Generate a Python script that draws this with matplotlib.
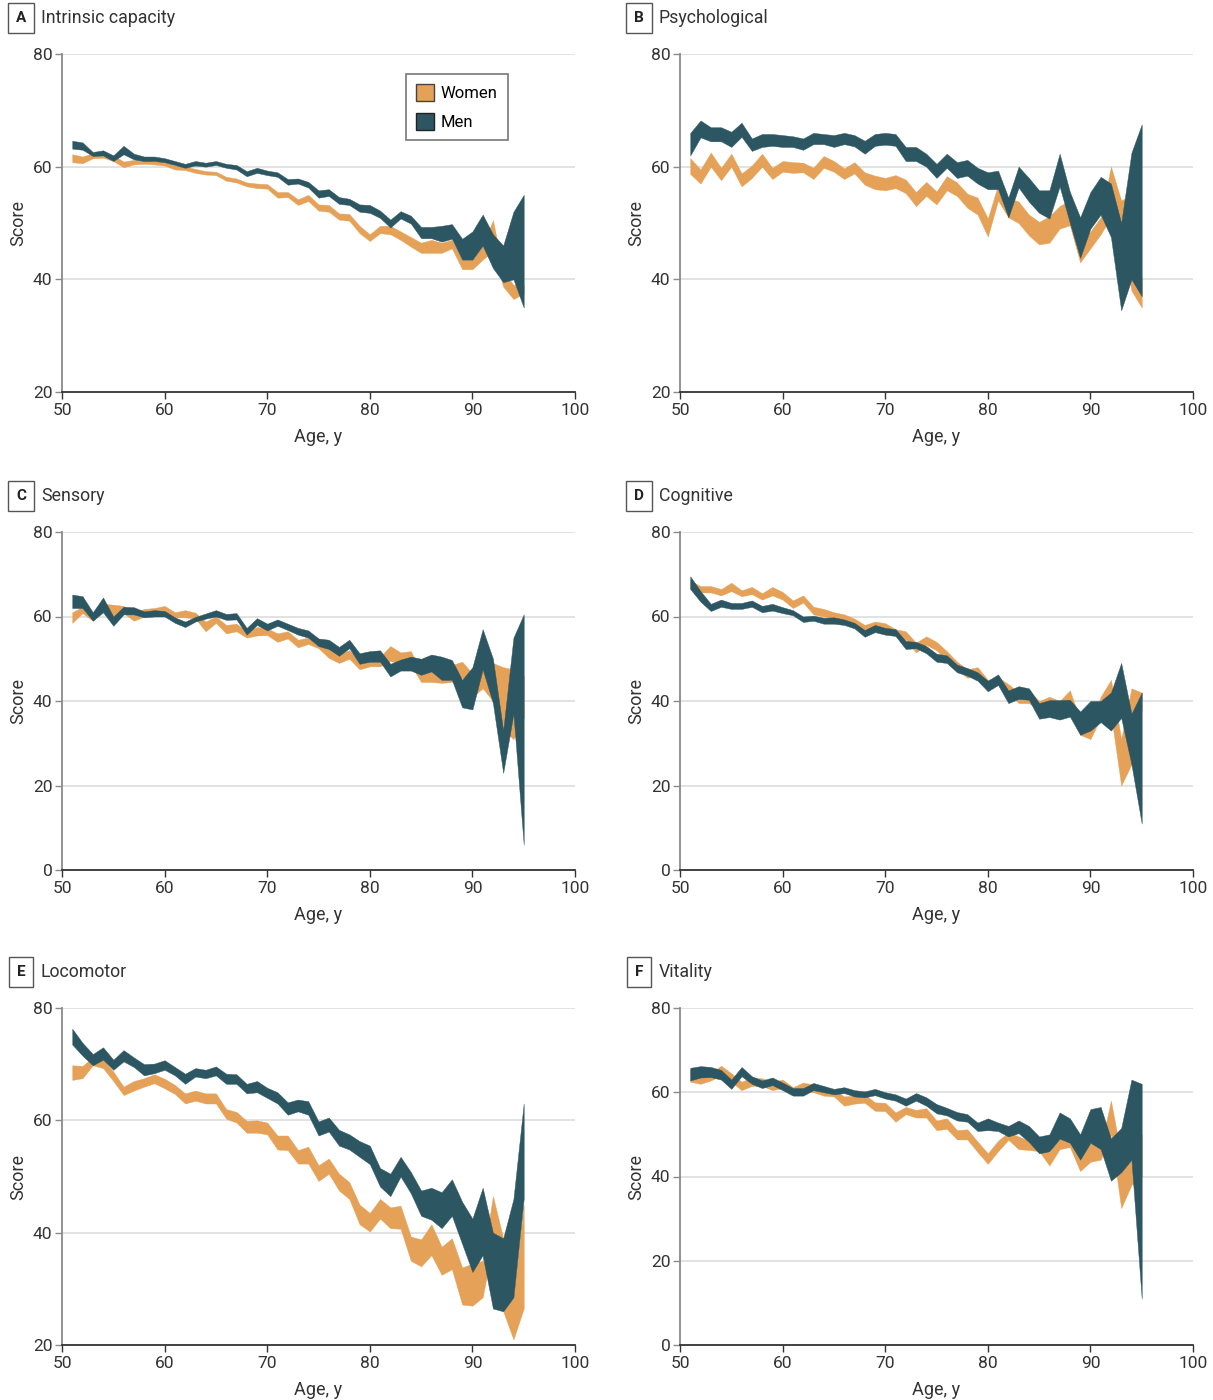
import numpy as np
import matplotlib
matplotlib.use("Agg")
import matplotlib.pyplot as plt
from matplotlib.patches import Patch

plt.rcParams['font.family'] = ['Roboto', 'DejaVu Sans']

ages = list(range(51, 96))

# A Intrinsic capacity
ic_men_lo = [63.2, 63.0, 61.9, 62.0, 61.0, 62.2, 61.3, 61.0, 61.0, 60.8, 60.3, 59.8, 60.2, 60.0, 60.3,
             59.8, 59.5, 58.3, 58.9, 58.5, 58.2, 56.8, 57.0, 56.3, 54.5, 54.8, 53.4, 53.2, 52.0, 51.8,
             50.9, 49.2, 50.8, 49.9, 47.3, 47.3, 46.7, 47.2, 43.5, 43.5, 46.0, 42.0, 39.5, 40.0, 35.0]
ic_men_hi = [64.6, 64.3, 62.6, 62.9, 62.0, 63.7, 62.3, 61.8, 61.8, 61.5, 61.0, 60.5, 61.0, 60.7, 61.0,
             60.5, 60.3, 59.2, 59.8, 59.3, 59.0, 57.8, 57.9, 57.3, 55.8, 56.0, 54.6, 54.3, 53.3, 53.2,
             52.2, 50.6, 52.1, 51.3, 49.3, 49.3, 49.5, 49.8, 47.2, 48.5, 51.5, 48.0, 46.0, 52.0, 55.0]
ic_women_lo = [60.8, 60.6, 61.5, 61.6, 61.0, 59.9, 60.4, 60.5, 60.4, 60.2, 59.5, 59.4, 58.9, 58.6, 58.5,
               57.5, 57.2, 56.5, 56.2, 56.1, 54.5, 54.6, 53.2, 53.9, 52.2, 52.0, 50.6, 50.4, 48.2, 46.8,
               48.2, 48.0, 47.0, 45.8, 44.7, 44.7, 44.7, 45.5, 41.8, 41.8, 43.5, 45.0, 38.7, 36.5, 37.5]
ic_women_hi = [62.2, 61.8, 62.4, 62.0, 62.0, 60.9, 61.2, 61.2, 61.0, 60.9, 60.2, 60.0, 59.6, 59.2, 59.1,
               58.2, 57.9, 57.2, 57.0, 56.9, 55.5, 55.5, 54.2, 55.0, 53.3, 53.2, 51.7, 51.6, 49.5, 48.0,
               49.5, 49.5, 48.5, 47.5, 46.5, 47.0, 46.5, 47.0, 43.5, 43.5, 46.0, 50.5, 41.5, 39.0, 39.0]

# B Psychological
ps_men_lo = [62.0, 65.2, 64.5, 64.5, 63.5, 65.3, 62.8, 63.5, 63.7, 63.5, 63.5, 63.0, 64.0, 64.0, 63.5,
             64.0, 63.6, 62.3, 63.7, 63.9, 63.7, 61.0, 61.0, 60.0, 58.0, 59.8, 58.0, 58.4, 57.0, 56.0,
             56.0, 51.0, 56.3, 53.8, 51.8, 50.8, 56.5, 50.0, 43.8, 49.0, 51.5, 47.5, 34.5, 40.0, 37.0]
ps_men_hi = [66.0, 68.2, 67.0, 67.0, 66.2, 67.8, 65.0, 65.8, 65.8, 65.6, 65.4, 65.0, 66.0, 65.8, 65.6,
             66.0, 65.6, 64.6, 65.8, 66.0, 65.8, 63.5, 63.5, 62.3, 60.5, 62.3, 60.8, 61.2, 59.8, 59.0,
             59.3, 54.5, 60.0, 58.0, 55.8, 55.8, 62.3, 55.5, 51.0, 55.5, 58.2, 57.0, 50.0, 62.5, 67.5]
ps_women_lo = [58.7, 57.0, 60.0, 57.6, 60.0, 56.5, 58.0, 60.0, 57.8, 59.1, 58.9, 59.0, 57.8, 59.8, 59.1,
               57.8, 58.8, 56.8, 56.0, 55.8, 56.2, 55.3, 53.0, 54.8, 53.3, 55.8, 54.8, 52.7, 51.5, 47.6,
               54.0, 51.0, 50.0, 47.8, 46.2, 46.5, 49.0, 49.6, 43.0, 45.5, 48.0, 51.0, 48.0, 38.0, 35.0]
ps_women_hi = [61.5, 59.5, 62.5, 59.8, 62.3, 58.8, 60.2, 62.3, 59.8, 61.0, 60.8, 60.7, 59.8, 61.9, 61.0,
               59.7, 60.8, 59.0, 58.4, 58.0, 58.5, 57.7, 55.5, 57.3, 55.6, 58.3, 57.2, 55.2, 54.5, 50.8,
               56.8, 54.5, 53.8, 51.5, 50.2, 51.2, 53.0, 54.0, 46.2, 48.5, 51.0, 60.0, 54.0, 55.0, 40.0]

# C Sensory
se_men_lo = [62.0, 62.0, 59.0, 61.0, 57.8, 60.5, 60.5, 59.8, 60.0, 60.0, 58.5, 57.5, 58.8, 59.5, 60.0,
             59.2, 59.3, 55.7, 58.0, 56.7, 57.8, 56.8, 55.7, 55.0, 53.0, 52.3, 50.7, 52.5, 48.8, 49.3,
             49.3, 45.8, 47.2, 47.2, 46.2, 47.0, 45.0, 45.0, 38.5, 38.0, 47.5, 39.5, 23.0, 37.0, 6.0]
se_men_hi = [65.2, 64.8, 61.0, 64.5, 60.0, 62.3, 62.2, 61.2, 61.5, 61.3, 59.8, 58.8, 59.9, 60.7, 61.5,
             60.6, 60.8, 57.3, 59.6, 58.3, 59.3, 58.3, 57.3, 56.7, 54.8, 54.5, 52.8, 54.5, 51.3, 51.8,
             52.0, 48.8, 49.8, 50.5, 50.0, 51.0, 50.5, 49.7, 45.0, 48.0, 57.0, 50.0, 33.0, 55.0, 60.5]
se_women_lo = [58.5, 60.8, 59.0, 61.8, 60.0, 60.8, 59.0, 60.0, 60.5, 60.5, 59.8, 59.8, 59.5, 56.5, 58.5,
               56.0, 56.5, 55.0, 55.5, 55.6, 54.0, 54.8, 52.7, 53.5, 52.5, 50.2, 49.0, 50.0, 47.5, 48.2,
               48.2, 49.5, 48.8, 48.5, 44.5, 44.5, 44.3, 44.5, 45.5, 41.0, 43.0, 40.0, 33.0, 31.0, 36.0]
se_women_hi = [61.0, 62.3, 60.2, 63.0, 62.8, 62.5, 60.8, 61.8, 62.0, 62.5, 61.0, 61.5, 60.9, 58.8, 60.0,
               58.0, 58.3, 56.5, 57.5, 57.2, 56.0, 56.5, 54.5, 55.0, 54.0, 52.5, 51.2, 52.0, 49.5, 50.2,
               50.5, 53.0, 51.5, 51.8, 47.0, 47.5, 47.0, 48.5, 49.3, 46.5, 48.5, 49.0, 48.0, 47.5, 46.0]

# D Cognitive
co_men_lo = [66.5, 63.5, 61.3, 62.3, 61.8, 61.8, 62.3, 61.0, 61.4, 60.8, 60.3, 58.7, 59.0, 58.3, 58.3,
             58.0, 57.2, 55.2, 56.3, 55.7, 55.4, 52.3, 52.5, 51.3, 49.3, 49.0, 46.8, 46.0, 44.8, 42.3,
             43.8, 39.5, 40.5, 40.3, 35.8, 36.2, 35.6, 36.3, 32.0, 33.0, 35.0, 33.0, 36.0, 25.0, 11.0]
co_men_hi = [69.5, 66.0, 63.0, 64.0, 63.2, 63.2, 63.8, 62.5, 63.0, 62.2, 61.5, 60.0, 60.2, 59.7, 59.8,
             59.3, 58.5, 56.8, 58.0, 57.3, 57.0, 54.2, 54.0, 53.0, 51.2, 50.8, 48.6, 47.8, 46.8, 44.8,
             46.3, 42.5, 43.5, 43.0, 39.5, 40.2, 40.2, 40.3, 37.5, 40.0, 40.0, 42.0, 49.0, 37.0, 42.0]
co_women_lo = [66.5, 65.7, 65.7, 65.0, 66.0, 64.8, 65.3, 64.0, 65.0, 64.0, 62.0, 63.3, 60.5, 60.0, 59.5,
               59.0, 58.0, 56.5, 57.3, 56.8, 55.5, 54.5, 51.5, 53.3, 52.0, 49.8, 47.5, 45.5, 46.0, 43.0,
               43.8, 42.3, 39.5, 39.5, 38.0, 38.8, 38.2, 39.8, 32.0, 31.0, 36.0, 37.0, 20.0, 25.0, 38.0]
co_women_hi = [68.5, 67.2, 67.2, 66.5, 68.0, 66.2, 67.0, 65.5, 67.0, 65.8, 63.8, 65.0, 62.3, 61.8, 61.0,
               60.5, 59.5, 58.0, 58.8, 58.4, 57.0, 56.5, 53.8, 55.3, 54.0, 51.8, 49.3, 47.5, 48.0, 45.0,
               45.6, 44.0, 42.0, 42.5, 40.0, 41.0, 40.0, 42.5, 35.5, 33.8, 41.0, 45.0, 31.0, 43.0, 42.0]

# E Locomotor
lo_men_lo = [73.5, 71.5, 69.8, 70.8, 69.0, 70.5, 69.5, 68.0, 68.4, 69.0, 68.0, 66.5, 67.8, 67.5, 68.0,
             66.5, 66.5, 64.8, 65.0, 64.0, 63.0, 61.0, 61.6, 61.0, 57.3, 58.0, 55.5, 54.8, 53.5, 52.2,
             48.2, 46.5, 50.0, 47.0, 43.0, 42.3, 40.8, 43.0, 38.0, 33.0, 36.0, 26.5, 26.0, 28.5, 46.0]
lo_men_hi = [76.3, 73.8, 71.8, 73.0, 70.8, 72.5, 71.2, 70.0, 70.1, 70.7, 69.5, 68.3, 69.3, 69.0, 69.6,
             68.3, 68.2, 66.5, 67.0, 65.8, 65.0, 63.2, 63.7, 63.4, 59.8, 60.5, 58.3, 57.5, 56.3, 55.5,
             51.5, 50.5, 53.5, 50.8, 47.5, 48.0, 47.2, 49.5, 45.5, 42.5, 48.0, 40.0, 39.0, 46.0, 63.0]
lo_women_lo = [67.2, 67.5, 69.8, 69.3, 67.0, 64.5, 65.3, 66.0, 66.6, 65.7, 64.7, 63.0, 63.5, 63.0, 63.0,
               60.3, 59.6, 57.8, 57.8, 57.5, 54.8, 54.7, 52.3, 52.3, 49.2, 50.5, 47.5, 46.0, 41.5, 40.2,
               42.5, 40.8, 40.7, 35.0, 34.0, 36.0, 32.5, 33.5, 27.2, 27.0, 28.5, 38.0, 26.0, 21.0, 26.5]
lo_women_hi = [69.8, 69.7, 71.2, 70.8, 68.7, 66.0, 67.0, 67.5, 68.2, 67.4, 66.3, 64.8, 65.3, 64.8, 64.8,
               62.0, 61.5, 59.9, 60.0, 59.6, 57.3, 57.3, 54.7, 55.3, 52.0, 53.2, 50.5, 49.0, 45.0, 43.5,
               46.0, 44.5, 44.8, 39.3, 38.8, 41.5, 37.5, 39.0, 33.8, 34.5, 35.0, 46.5, 39.0, 28.5, 45.0]

# F Vitality
vi_men_lo = [62.8, 63.5, 63.6, 63.0, 60.8, 63.8, 62.0, 61.0, 61.7, 60.5, 59.2, 59.2, 60.5, 60.0, 59.5,
             59.8, 59.0, 58.8, 59.3, 58.5, 58.0, 56.8, 58.0, 56.8, 55.0, 54.5, 53.3, 53.0, 50.8, 51.0,
             50.8, 49.5, 50.3, 48.2, 45.5, 46.0, 49.0, 48.0, 44.0, 48.0, 46.5, 39.0, 41.0, 44.0, 11.0]
vi_men_hi = [65.8, 66.2, 66.0, 65.3, 63.0, 66.0, 63.8, 62.8, 63.5, 62.3, 61.0, 61.0, 62.2, 61.5, 60.8,
             61.2, 60.5, 60.2, 60.8, 60.0, 59.5, 58.5, 59.8, 58.8, 57.2, 56.3, 55.3, 54.8, 52.8, 53.8,
             52.8, 52.0, 53.3, 52.0, 49.5, 50.0, 55.2, 53.8, 50.0, 56.0, 56.5, 49.0, 51.5, 63.0, 62.0]
vi_women_lo = [62.5, 62.0, 62.8, 64.0, 62.5, 60.5, 61.5, 61.5, 60.5, 61.0, 60.0, 60.5, 60.0, 59.2, 59.0,
               56.8, 57.3, 57.5, 55.6, 55.5, 53.0, 54.8, 54.0, 54.0, 51.0, 51.3, 48.8, 48.8, 45.8, 43.0,
               46.0, 48.7, 46.5, 46.3, 46.0, 42.6, 46.5, 47.0, 41.3, 43.5, 44.0, 50.0, 32.5, 38.0, 40.0]
vi_women_hi = [65.5, 63.5, 64.5, 66.3, 64.5, 62.5, 63.5, 63.3, 62.5, 63.0, 61.2, 62.3, 61.8, 60.7, 60.5,
               59.0, 59.2, 59.5, 57.6, 57.5, 55.2, 56.5, 55.8, 56.2, 53.3, 53.8, 51.0, 51.2, 48.3, 45.5,
               48.5, 50.5, 49.5, 48.5, 47.5, 45.8, 49.5, 48.5, 44.5, 48.0, 47.0, 58.0, 45.0, 45.0, 50.0]

women_color = '#E4A157'
men_color = '#2C5662'

panels = [
    ('A', 'Intrinsic capacity', 20, ic_women_lo, ic_women_hi, ic_men_lo, ic_men_hi),
    ('B', 'Psychological', 20, ps_women_lo, ps_women_hi, ps_men_lo, ps_men_hi),
    ('C', 'Sensory', 0, se_women_lo, se_women_hi, se_men_lo, se_men_hi),
    ('D', 'Cognitive', 0, co_women_lo, co_women_hi, co_men_lo, co_men_hi),
    ('E', 'Locomotor', 20, lo_women_lo, lo_women_hi, lo_men_lo, lo_men_hi),
    ('F', 'Vitality', 0, vi_women_lo, vi_women_hi, vi_men_lo, vi_men_hi),
]

W, H = 1213, 1400
fig = plt.figure(figsize=(W / 100, H / 100), dpi=100)

lefts = [62, 680]
tops = [54, 532, 1008]
bottoms = [392, 870, 1345]
ax_w = 513

for i, (letter, title, ymin, w_lo, w_hi, m_lo, m_hi) in enumerate(panels):
    row, col = divmod(i, 2)
    x0 = lefts[col]
    ax = fig.add_axes([x0 / W, 1 - bottoms[row] / H, ax_w / W, (bottoms[row] - tops[row]) / H])

    ax.fill_between(ages, w_lo, w_hi, color=women_color, linewidth=0.3, edgecolor=women_color,
                    label='Women', zorder=2)
    ax.fill_between(ages, m_lo, m_hi, color=men_color, linewidth=0.3, edgecolor=men_color,
                    label='Men', zorder=3)

    ax.set_xlim(50, 100)
    ax.set_ylim(ymin, 80)
    ax.set_xticks(range(50, 101, 10))
    ax.set_yticks(range(ymin, 81, 20))
    for yv in range(ymin + 20, 81, 20):
        ax.axhline(yv, color='#dddddd', linewidth=1.2, zorder=1)

    for s in ['top', 'right']:
        ax.spines[s].set_visible(False)
    ax.spines['left'].set_color('#8a8a8a')
    ax.spines['left'].set_linewidth(1.3)
    ax.spines['bottom'].set_color('#333333')
    ax.spines['bottom'].set_linewidth(1.3)
    ax.tick_params(axis='y', direction='out', length=5, width=1, color='#8a8a8a',
                   labelsize=12.5, labelcolor='#333333', pad=2)
    ax.tick_params(axis='x', direction='out', length=5, width=1, color='#333333',
                   labelsize=12.5, labelcolor='#333333', pad=3)
    ax.set_xlabel('Age, y', fontsize=13, color='#333333', labelpad=7)
    ax.set_ylabel('Score', fontsize=13, color='#333333', labelpad=4)

    # panel letter box and title
    ty = tops[row] - 36
    fx = (x0 - 52) / W
    fig.text(fx + 11 / W, 1 - ty / H, letter, fontsize=11, fontweight='bold', color='#222222',
             ha='center', va='center',
             bbox=dict(boxstyle='square,pad=0.5', facecolor='white', edgecolor='#555555', linewidth=1))
    fig.text(fx + 31 / W, 1 - ty / H, title, fontsize=12.8, color='#333333', ha='left', va='center')

    if letter == 'A':
        handles = [Patch(facecolor=women_color, edgecolor='#444444', linewidth=1, label='Women'),
                   Patch(facecolor=men_color, edgecolor='#222222', linewidth=1, label='Men')]
        leg = ax.legend(handles=handles, loc='upper left', bbox_to_anchor=(0.67, 0.94),
                        borderaxespad=0, fontsize=12, frameon=True, fancybox=False,
                        edgecolor='#555555', handlelength=1.1, handleheight=1.2,
                        handletextpad=0.4, labelspacing=0.7, borderpad=0.6)
        leg.get_frame().set_linewidth(1.2)

fig.savefig('out.png', dpi=100, facecolor='white')
